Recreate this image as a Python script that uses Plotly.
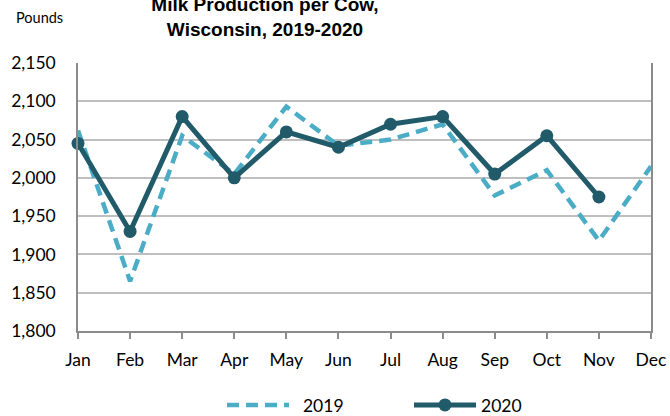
import plotly.graph_objects as go

months = ["Jan", "Feb", "Mar", "Apr", "May", "Jun", "Jul", "Aug", "Sep", "Oct", "Nov", "Dec"]
y2019 = [2062, 1865, 2055, 2005, 2093, 2042, 2050, 2070, 1977, 2010, 1918, 2015]
y2020 = [2045, 1930, 2080, 2000, 2060, 2040, 2070, 2080, 2005, 2055, 1975, None]
ytick_vals = [1800, 1850, 1900, 1950, 2000, 2050, 2100, 2150]
ytick_text = ["1,800", "1,850", "1,900", "1,950", "2,000", "2,050", "2,100", "2,150"]

FONT = "Lato, 'Open Sans', sans-serif"
W, H = 670, 416
L, T = 78, 63
R = W - 651
B = H - 331
PW, PH = W - L - R, H - T - B

fig = go.Figure()
fig.add_trace(go.Scatter(
    x=months, y=y2019, name="\u00a0\u00a02019", mode="lines",
    line=dict(color="#4BACC6", width=4.5, dash="12px,7px"),
    cliponaxis=False,
))
fig.add_trace(go.Scatter(
    x=months, y=y2020, name="2020", mode="lines+markers",
    line=dict(color="#215A69", width=5),
    marker=dict(size=13, color="#215A69"),
    cliponaxis=False,
))

fig.update_layout(
    width=W, height=H,
    margin=dict(l=L, r=R, t=T, b=B, autoexpand=False),
    paper_bgcolor="white", plot_bgcolor="white",
    font=dict(family=FONT, size=17.5, color="#000000"),
    showlegend=True,
    legend=dict(orientation="h", x=(222 - L) / PW, xanchor="left",
                y=-(405 - 331) / PH, yanchor="middle",
                font=dict(size=17.5), itemwidth=62, entrywidth=110, traceorder="normal",
                bgcolor="rgba(0,0,0,0)"),
    title=dict(text="<b>Milk Production per Cow,<br>Wisconsin, 2019-2020</b>",
               font=dict(family="Liberation Sans, Arial, sans-serif", size=19, color="#000000"),
               xref="container", yref="container", x=265 / W, xanchor="center",
               y=1 - 11 / H, yanchor="middle"),
    annotations=[dict(text="Pounds", xref="paper", yref="paper", showarrow=False,
                      x=(14 - L) / PW, xanchor="left",
                      y=1 + (63 - 18) / PH, yanchor="middle",
                      font=dict(size=14.5))],
)
fig.update_xaxes(
    type="category", range=[0, 11], automargin=False,
    showgrid=False, showline=True, linecolor="#8C8C8C", linewidth=1.5,
    ticks="outside", ticklen=6, tickcolor="#8C8C8C", tickwidth=1.5,
    tickfont=dict(size=17.5), ticklabelstandoff=6,
)
fig.update_yaxes(
    range=[1800, 2150], tickvals=ytick_vals, ticktext=ytick_text, automargin=False,
    showgrid=True, gridcolor="#BFBFBF", gridwidth=1.5,
    showline=True, linecolor="#8C8C8C", linewidth=1.5, mirror=True,
    ticks="", tickfont=dict(size=17.5), zeroline=False, ticklabelstandoff=17,
)

fig.write_html("out.html", config={"displayModeBar": False},
               post_script="document.body.style.margin='0';document.body.style.overflow='hidden';")
